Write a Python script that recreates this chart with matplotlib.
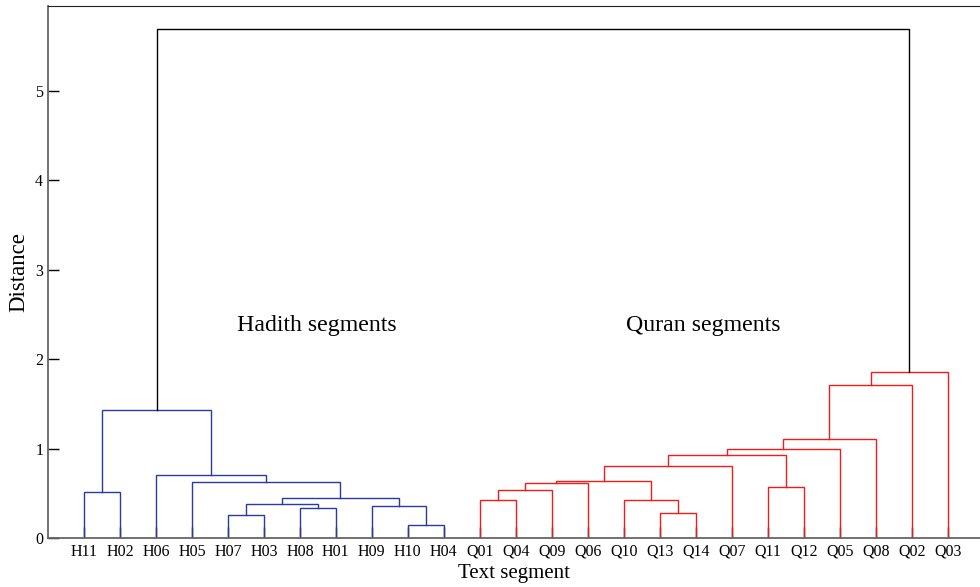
import matplotlib
matplotlib.use('Agg')
import matplotlib.pyplot as plt

plt.rcParams['font.family'] = 'Liberation Serif'

# leaf order as shown on the x axis
leaves = ['H11', 'H02', 'H06', 'H05', 'H07', 'H03', 'H08', 'H01', 'H09', 'H10', 'H04',
          'Q01', 'Q04', 'Q09', 'Q06', 'Q10', 'Q13', 'Q14', 'Q07', 'Q11', 'Q12', 'Q05',
          'Q08', 'Q02', 'Q03']

# merges: (node, left child, right child, distance)
hadith_links = [
    ('h1', 'H11', 'H02', 0.51),
    ('h2', 'H07', 'H03', 0.26),
    ('h3', 'H08', 'H01', 0.33),
    ('h4', 'h2', 'h3', 0.38),
    ('h5', 'H10', 'H04', 0.14),
    ('h6', 'H09', 'h5', 0.355),
    ('h7', 'h4', 'h6', 0.445),
    ('h8', 'H05', 'h7', 0.63),
    ('h9', 'H06', 'h8', 0.70),
    ('h10', 'h1', 'h9', 1.43),
]
quran_links = [
    ('q1', 'Q01', 'Q04', 0.43),
    ('q2', 'q1', 'Q09', 0.54),
    ('q3', 'q2', 'Q06', 0.615),
    ('q4', 'Q13', 'Q14', 0.275),
    ('q5', 'Q10', 'q4', 0.43),
    ('q6', 'q3', 'q5', 0.635),
    ('q7', 'q6', 'Q07', 0.81),
    ('q8', 'Q11', 'Q12', 0.57),
    ('q9', 'q7', 'q8', 0.925),
    ('q10', 'q9', 'Q05', 0.99),
    ('q11', 'q10', 'Q08', 1.11),
    ('q12', 'q11', 'Q02', 1.71),
    ('q13', 'q12', 'Q03', 1.85),
]
root_link = [('root', 'h10', 'q13', 5.69)]

yticks = [0, 1, 2, 3, 4, 5]

fig = plt.figure(figsize=(9.8, 5.87), dpi=100)
ax = fig.add_axes([0.049, 0.0835, 0.951, 0.9055])

# leaf positions 1..n, node positions = mean of children
xpos = {name: i + 1 for i, name in enumerate(leaves)}
hgt = {name: 0.0 for name in leaves}

def draw(links, color):
    for node, a, b, d in links:
        ax.plot([xpos[a], xpos[a], xpos[b], xpos[b]],
                [hgt[a], d, d, hgt[b]], color=color, lw=1.0,
                solid_joinstyle='miter')
        xpos[node] = (xpos[a] + xpos[b]) / 2.0
        hgt[node] = d

draw(hadith_links, '#2a3a9e')
draw(quran_links, '#ee1c1c')
draw(root_link, 'black')

ax.text(7.48, 2.37, 'Hadith segments', fontsize=17.2, ha='center', va='center')
ax.text(18.2, 2.37, 'Quran segments', fontsize=17.2, ha='center', va='center')

ax.set_xlim(0, 25.9)
ax.set_ylim(0, 5.94)
ax.set_xticks(range(1, len(leaves) + 1))
ax.set_xticklabels(leaves, fontsize=11.5)
ax.set_yticks(yticks)
ax.set_yticklabels([str(t) for t in yticks], fontsize=11.5)
ax.tick_params(direction='in', length=8, width=1, pad=4)
ax.tick_params(axis='y', pad=3.5)

ax.set_xlabel('Text segment', fontsize=15, labelpad=3)
ax.set_ylabel('Distance', fontsize=16.5, labelpad=4)

ax.spines['right'].set_visible(False)
for s in ['left', 'bottom']:
    ax.spines[s].set_color('#666666')
    ax.spines[s].set_linewidth(1.3)
ax.spines['top'].set_color('#222222')

fig.savefig('out.png', dpi=100)
